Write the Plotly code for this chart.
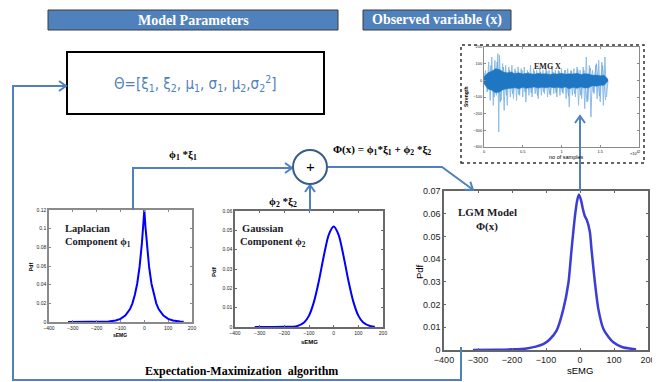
import plotly.graph_objects as go
import math

# The page body has an 8px margin, so the figure is drawn 8px smaller and
# all reference pixel positions are shifted by that offset.
OFF = 8
W, H = 660 - OFF, 382 - OFF

# ---------------- data ----------------
lap_x = [-320, -200, -150, -120, -100, -80, -60, -50, -40, -30, -20, -10, -5, 0,
         5, 10, 20, 30, 40, 50, 60, 80, 100, 120, 150, 165]
lap_y = [0, 0.0001, 0.0005, 0.0016, 0.0034, 0.0069, 0.0139, 0.0200, 0.0290, 0.0410,
         0.0590, 0.0850, 0.1010, 0.1200, 0.1010, 0.0850, 0.0590, 0.0410, 0.0290,
         0.0200, 0.0139, 0.0069, 0.0034, 0.0016, 0.0005, 0.0002]

gau_x = [-320, -200, -150, -120, -100, -80, -60, -40, -20, 0, 20, 40, 60, 80, 100, 120, 150, 167]
gau_y = [0, 0.0001, 0.0004, 0.0023, 0.0059, 0.0130, 0.0238, 0.0367, 0.0477, 0.0520,
         0.0477, 0.0367, 0.0238, 0.0130, 0.0059, 0.0023, 0.0004, 0.0001]

lgm_x = [-315, -250, -200, -157, -130, -108, -90, -69, -49, -34, -25, -15, -8, -3,
         3, 8, 14, 20, 29, 34, 44, 54, 69, 85, 98, 125, 157, 165]
lgm_y = [0, 0.0001, 0.0003, 0.0007, 0.0015, 0.0026, 0.0045, 0.0085, 0.018, 0.0296,
         0.044, 0.0587, 0.066, 0.0685, 0.066, 0.0624, 0.059, 0.0573, 0.052, 0.044,
         0.0296, 0.018, 0.0092, 0.0055, 0.0034, 0.0012, 0.0004, 0.0002]

# EMG signal: sample index (x10^4) and strength - large light spikes
emg_t = [0.00, 0.02, 0.04, 0.06, 0.08, 0.10, 0.12, 0.14, 0.16, 0.18, 0.19, 0.20, 0.22,
         0.24, 0.26, 0.28, 0.30, 0.32, 0.34, 0.36, 0.38, 0.40, 0.42, 0.44, 0.46, 0.48,
         0.50, 0.52, 0.54, 0.56, 0.58, 0.60, 0.62, 0.64, 0.66, 0.68, 0.70, 0.72, 0.74,
         0.76, 0.78, 0.80, 0.82, 0.84, 0.86, 0.88, 0.90, 0.92, 0.94, 0.96, 0.98, 1.00,
         1.02, 1.04, 1.06, 1.08, 1.10, 1.12, 1.14, 1.16, 1.18, 1.20, 1.22, 1.24, 1.26,
         1.28, 1.30, 1.32, 1.34, 1.36, 1.38, 1.40, 1.42, 1.44, 1.46, 1.48, 1.50, 1.52,
         1.54, 1.56, 1.58, 1.60]
emg_v = [0, 60, -70, 110, -120, 140, -150, 120, -90, 160, -310, 150, -120,
         100, -180, 90, -150, 80, -100, 90, -110, 70, -120, 80, -90, 70,
         -100, 80, -130, 60, -90, 90, -100, 70, -80, 60, -110, 70, -90,
         60, -80, 70, -100, 60, -90, 70, -80, 60, -100, 60, -90, 70,
         -80, 60, -110, 70, -160, 60, -90, 70, -100, 80, -150, 60, -110,
         80, -170, 140, -120, 90, -220, 60, -80, 90, -110, 120, -130, 110,
         -150, 140, -100, 0]
# smaller in-between spikes
emg_t2 = [0.01, 0.05, 0.09, 0.13, 0.17, 0.21, 0.25, 0.29, 0.33, 0.37, 0.41, 0.45,
          0.49, 0.53, 0.57, 0.61, 0.65, 0.69, 0.73, 0.77, 0.81, 0.85, 0.89, 0.93,
          0.97, 1.01, 1.05, 1.09, 1.13, 1.17, 1.21, 1.25, 1.29, 1.33, 1.37, 1.41,
          1.45, 1.49, 1.53, 1.57]
emg_v2 = [40, -60, 90, -100, 110, -130, 80, -90, 60, -80, 55, -85, 60, -70, 50,
          -75, 55, -90, 50, -70, 55, -85, 50, -75, 55, -70, 60, -95, 55, -80, 65,
          -90, 60, -130, 75, -70, 100, -95, 90, -120]
# dense core band of the signal
core_t = [0.00, 0.05, 0.10, 0.15, 0.20, 0.25, 0.30, 0.35, 0.40, 0.45, 0.50, 0.55, 0.60,
          0.65, 0.70, 0.75, 0.80, 0.85, 0.90, 0.95, 1.00, 1.05, 1.10, 1.15, 1.20, 1.25,
          1.30, 1.35, 1.40, 1.45, 1.50, 1.55, 1.60]
core_hi = [20, 45, 55, 70, 65, 50, 45, 50, 40, 45, 38, 42, 40, 36, 42, 38, 40, 35, 40,
           38, 42, 36, 40, 38, 42, 35, 40, 38, 30, 32, 28, 30, 6]
core_lo = [-20, -50, -60, -75, -70, -55, -50, -48, -45, -50, -42, -48, -45, -40, -46,
           -42, -45, -40, -44, -42, -46, -40, -50, -42, -48, -40, -46, -44, -32, -35,
           -30, -30, -6]

# ---------------- helpers ----------------
def X(p):
    return (p - OFF) / W

def Y(p):
    return 1 - (p - OFF) / H

def path(points):
    return "M " + " L ".join(f"{X(a):.5f},{Y(b):.5f}" for a, b in points)

BLUE = "#4F81BD"

shapes = []

def line_path(points, color=BLUE, width=2):
    shapes.append(dict(type="path", xref="paper", yref="paper", path=path(points),
                       line=dict(color=color, width=width), layer="above"))

def chevron(tx, ty, dx, dy, L=7, Wd=5, color=BLUE):
    n = math.hypot(dx, dy)
    ux, uy = dx / n, dy / n
    nx, ny = -uy, ux
    bx, by = tx - L * ux, ty - L * uy
    pts = [(bx + Wd * nx, by + Wd * ny), (tx, ty), (bx - Wd * nx, by - Wd * ny)]
    line_path(pts, color=color, width=2)

def rect(x0, y0, x1, y1, **kw):
    d = dict(type="rect", xref="paper", yref="paper",
             x0=X(x0), x1=X(x1), y0=Y(y1), y1=Y(y0))
    d.update(kw)
    shapes.append(d)

# header boxes
rect(48, 10, 338, 30, fillcolor="#4F81BD", line=dict(color="#3a3a3a", width=1), layer="above")
rect(363, 10, 511, 30, fillcolor="#4F81BD", line=dict(color="#3a3a3a", width=1), layer="above")
# theta box
rect(67, 52, 324, 114, fillcolor="rgba(0,0,0,0)", line=dict(color="black", width=2), layer="above")
# dashed box around EMG
rect(461, 45, 644, 163, fillcolor="rgba(0,0,0,0)", line=dict(color="#333333", width=1.5, dash="dot"), layer="above")

# feedback loop
line_path([(461, 347), (461, 380), (13, 380), (13, 86), (65, 86)])
chevron(66, 86, 1, 0)
# phi1 path
line_path([(133, 210), (133, 168), (291, 168)])
chevron(292, 168, 1, 0)
# phi2 path
line_path([(310, 211), (310, 186)])
chevron(310, 185, 0, -1)
# output path
line_path([(327, 167), (442, 167), (472, 189)])
chevron(473, 190, 31, 23)
# to EMG
line_path([(580, 191), (580, 118)])
chevron(580, 116, 0, -1)
# summing circle
shapes.append(dict(type="circle", xref="paper", yref="paper",
                   x0=X(293), x1=X(327), y0=Y(184), y1=Y(150),
                   line=dict(color="#385D8A", width=2), fillcolor="white", layer="above"))

# ---------------- traces ----------------
fig = go.Figure()
fig.add_trace(go.Scatter(x=lap_x, y=lap_y, mode="lines", line=dict(color="#0000FF", width=2),
                         xaxis="x", yaxis="y", showlegend=False))
fig.add_trace(go.Scatter(x=gau_x, y=gau_y, mode="lines", line=dict(color="#0000FF", width=2, shape="spline", smoothing=0.8),
                         xaxis="x2", yaxis="y2", showlegend=False))
fig.add_trace(go.Scatter(x=lgm_x, y=lgm_y, mode="lines", line=dict(color="#3C3CD6", width=2.5, shape="spline", smoothing=0.6),
                         xaxis="x3", yaxis="y3", showlegend=False))
fig.add_trace(go.Scatter(x=emg_t, y=emg_v, mode="lines", line=dict(color="#8DBDE6", width=1),
                         xaxis="x4", yaxis="y4", showlegend=False))
fig.add_trace(go.Scatter(x=emg_t2, y=emg_v2, mode="lines", line=dict(color="#6FA8DC", width=0.8),
                         xaxis="x4", yaxis="y4", showlegend=False))
fig.add_trace(go.Scatter(x=core_t, y=core_hi, mode="lines", line=dict(color="#1F77C4", width=0.5),
                         xaxis="x4", yaxis="y4", showlegend=False))
fig.add_trace(go.Scatter(x=core_t, y=core_lo, mode="lines", line=dict(color="#1F77C4", width=0.5),
                         fill="tonexty", fillcolor="#1F77C4", xaxis="x4", yaxis="y4", showlegend=False))

def axis(x0, x1, rng, dtick, fs, lc, lw, anchor):
    return dict(domain=[X(x0), X(x1)], range=rng, anchor=anchor, showgrid=False, zeroline=False,
                showline=True, linecolor=lc, linewidth=lw, mirror="ticks", ticks="inside",
                ticklen=2, tickcolor=lc, automargin=False,
                tickfont=dict(size=fs, family="Liberation Sans", color="#222"),
                dtick=dtick, tick0=rng[0])

def yaxis(y0, y1, rng, dtick, fs, lc, lw, anchor):
    return dict(domain=[Y(y1), Y(y0)], range=rng, anchor=anchor, showgrid=False, zeroline=False,
                showline=True, linecolor=lc, linewidth=lw, mirror="ticks", ticks="inside",
                ticklen=2, tickcolor=lc, automargin=False,
                tickfont=dict(size=fs, family="Liberation Sans", color="#222"),
                dtick=dtick, tick0=rng[0])

layout = dict(
    template="none",
    width=W, height=H, autosize=False, margin=dict(l=0, r=0, t=0, b=0, pad=0),
    paper_bgcolor="white", plot_bgcolor="white", showlegend=False,
    xaxis=axis(49, 192, [-400, 200], 100, 5, "#8a8a8a", 1.5, "y"),
    yaxis=yaxis(210, 322, [0, 0.12], 0.02, 5, "#8a8a8a", 1.5, "x"),
    xaxis2=axis(235, 383, [-400, 200], 100, 5, "#6a6a6a", 1.5, "y2"),
    yaxis2=yaxis(211, 327, [0, 0.06], 0.01, 5, "#6a6a6a", 1.5, "x2"),
    xaxis3=axis(444, 648, [-400, 200], 100, 9, "#666666", 1.5, "y3"),
    yaxis3=yaxis(191, 350, [0, 0.07], 0.01, 9, "#666666", 1.5, "x3"),
    xaxis4=axis(484, 639, [0, 2], 0.5, 4, "#8a8a8a", 1, "y4"),
    yaxis4=yaxis(47, 147, [-400, 200], 100, 4, "#8a8a8a", 1, "x4"),
    shapes=shapes,
)
fig.update_layout(**layout)

SERIF = "Liberation Serif"
NARROW = "Liberation Sans Narrow, Arial Narrow, DejaVu Sans Condensed, Liberation Sans"
ann = []

def text(x, y, t, size, color="black", family=SERIF, bold=True, xanchor="center", angle=0):
    s = f"<b>{t}</b>" if bold else t
    ann.append(dict(x=X(x), y=Y(y), xref="paper", yref="paper", text=s, showarrow=False,
                    xanchor=xanchor, yanchor="middle", textangle=angle,
                    font=dict(size=size, color=color, family=family)))

text(193, 20, "Model Parameters", 14, color="white")
text(437, 20, "Observed variable (x)", 14, color="white")
text(195, 83, "Θ=[ξ<sub>1</sub>, ξ<sub>2</sub>, μ<sub>1</sub>, σ<sub>1</sub>, μ<sub>2</sub>,σ<sub>2</sub><sup>2</sup>]",
     15, color=BLUE, family=NARROW, bold=False)
text(183, 155, "ϕ<sub>1</sub> *ξ<sub>1</sub>", 11)
text(283, 202, "ϕ<sub>2</sub> *ξ<sub>2</sub>", 11)
text(382, 150, "Φ(x) = ϕ<sub>1</sub>*ξ<sub>1</sub> + ϕ<sub>2</sub> *ξ<sub>2</sub>", 11)
text(310, 167, "+", 15, bold=False, family="Liberation Sans")
text(63, 228, "Laplacian", 10.5, color="#1a1a2a", xanchor="left")
text(63, 243, "Component ϕ<sub>1</sub>", 10.5, color="#1a1a2a", xanchor="left")
text(240, 228, "Gaussian", 10.5, color="#1a1a2a", xanchor="left")
text(238, 243, "Component ϕ<sub>2</sub>", 10.5, color="#1a1a2a", xanchor="left")
text(487, 212, "LGM Model", 11, color="#1a1a2a")
text(487, 226, "Φ(x)", 11, color="#1a1a2a")
text(547, 67, "EMG X", 8, color="#1a1a1a")
text(241, 371, "Expectation-Maximization&nbsp; algorithm", 12)
# axis titles
text(120, 335, "sEMG", 5, family="Liberation Sans")
text(31, 267, "Pdf", 5, family="Liberation Sans", angle=-90)
text(309, 342, "sEMG", 6, family="Liberation Sans")
text(214, 272, "Pdf", 6, family="Liberation Sans", angle=-90)
text(580, 370, "sEMG", 9.5, family="Liberation Sans", bold=False)
text(419, 272, "Pdf", 9.5, family="Liberation Sans", bold=False, angle=-90)
text(566, 157, "no of samples", 5.5, family="Liberation Sans", bold=False)
text(634, 153, "×10<sup>4</sup>", 4, family="Liberation Sans", bold=False)
text(466, 97, "Strength", 5, family="Liberation Sans", angle=-90)

fig.update_layout(annotations=ann)
fig.write_html("out.html")
